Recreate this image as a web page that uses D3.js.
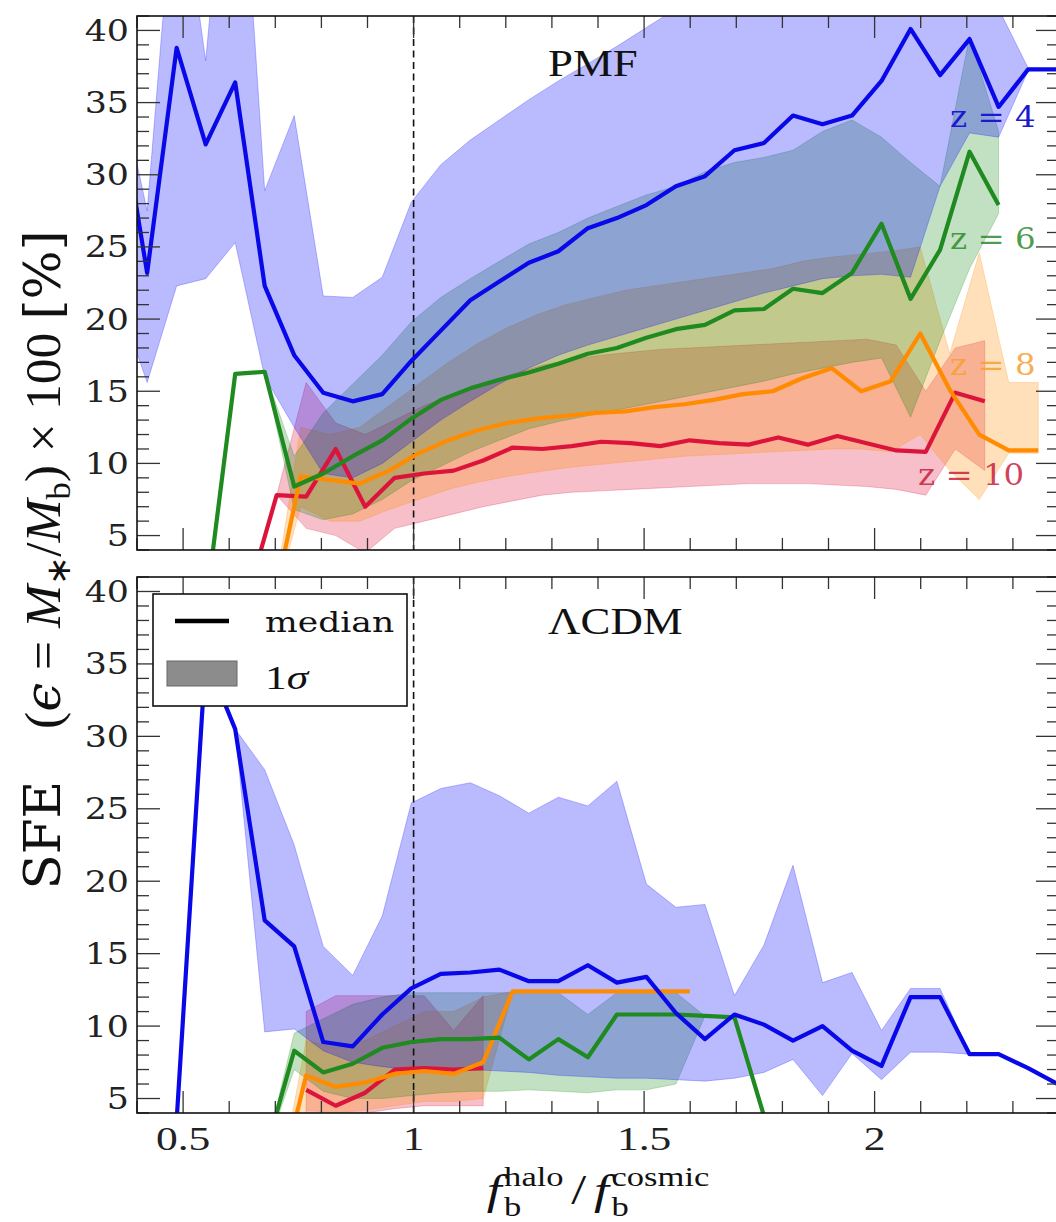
<!DOCTYPE html>
<html><head><meta charset="utf-8">
<script src="https://cdn.jsdelivr.net/npm/d3@7"></script>
<style>body{margin:0;background:#fff}svg{display:block}</style>
</head><body>
<svg id="c" width="1056" height="1222"></svg>
<script>
// ---------------- DATA ----------------
const xTickMajor = [0.5, 1, 1.5, 2];
const xTickLabels = ["0.5", "1", "1.5", "2"];
const yTickMajor = [5, 10, 15, 20, 25, 30, 35, 40];
const yTickLabels = ["5", "10", "15", "20", "25", "30", "35", "40"];

// bin centres (z=4 and z=6 share them)
const xsBG = [0.358, 0.422, 0.486, 0.549, 0.613, 0.677, 0.741, 0.804, 0.868, 0.932, 0.995, 1.059, 1.123, 1.186, 1.250, 1.314, 1.378, 1.441, 1.505, 1.569, 1.632, 1.696, 1.760, 1.823, 1.887, 1.951, 2.015, 2.078, 2.142, 2.206, 2.269, 2.333, 2.397];
const xsOr = [0.691, 0.755, 0.819, 0.883, 0.947, 1.011, 1.075, 1.139, 1.203, 1.267, 1.331, 1.395, 1.459, 1.523, 1.587, 1.651, 1.715, 1.779, 1.843, 1.907, 1.971, 2.035, 2.099, 2.163, 2.227, 2.291, 2.355];
const xsRd = [0.639, 0.703, 0.767, 0.831, 0.895, 0.959, 1.023, 1.087, 1.151, 1.215, 1.279, 1.343, 1.407, 1.471, 1.535, 1.599, 1.663, 1.727, 1.791, 1.855, 1.919, 1.983, 2.047, 2.111, 2.175, 2.239];

// ---- PMF panel ----
const pmfZ4Med = [35.7, 23.2, 38.8, 32.1, 36.4, 22.3, 17.5, 14.9, 14.3, 14.8, 17.1, 19.2, 21.3, 22.6, 23.9, 24.7, 26.3, 27.0, 27.9, 29.2, 29.9, 31.7, 32.2, 34.1, 33.5, 34.1, 36.5, 40.1, 36.9, 39.4, 34.7, 37.3, 37.3];
const pmfZ4Hi  = [37.0, 27.5, 52.5, 37.9, 60.0, 28.9, 34.1, 21.6, 21.5, 22.9, 28.1, 30.7, 32.4, 33.8, 35.2, 36.5, 37.7, 38.9, 40.2, 41.5, 42.5, 43.5, 44.0, 44.5, 45.0, 45.0, 45.0, 45.0, 45.0, 44.0, 41.5, 37.4, 37.3];
const pmfZ4Lo  = [21.5, 15.6, 22.3, 22.8, 25.3, 16.0, 12.5, 9.3, 9.0, 10.0, 11.5, 13.0, 14.3, 15.5, 16.6, 17.5, 18.2, 18.8, 19.4, 20.0, 20.6, 21.2, 21.8, 22.3, 22.8, 23.0, 23.1, 22.9, 29.2, 32.9, 32.6, 37.2, 37.3];

const pmfZ6Med = [null, null, null, 0.0, 16.2, 16.35, 8.4, 9.3, 10.5, 11.6, 13.1, 14.4, 15.2, 15.8, 16.3, 16.9, 17.6, 18.0, 18.7, 19.3, 19.6, 20.6, 20.7, 22.1, 21.8, 23.2, 26.6, 21.4, 24.8, 31.6, 27.9, null, null];
const pmfZ6Hi  = [null, null, null, 0.0, 16.2, 16.35, 10.5, 13.5, 15.5, 17.5, 19.8, 21.5, 22.8, 24.0, 25.2, 26.0, 27.0, 27.8, 28.6, 29.2, 30.2, 30.85, 31.2, 31.7, 33.0, 33.8, 32.6, 30.85, 29.2, 39.6, 33.0, null, null];
const pmfZ6Lo  = [null, null, null, 0.0, 16.2, 16.35, 6.8, 6.1, 6.5, 7.5, 8.8, 9.8, 10.8, 11.6, 12.4, 12.9, 13.3, 13.7, 14.1, 14.5, 14.9, 15.3, 15.7, 16.2, 16.6, 17.0, 17.3, 13.2, 18.5, 23.5, 27.3, null, null];

const pmfZ8Med = [-0.5, 9.1, 8.85, 8.6, 9.5, 10.7, 11.6, 12.3, 12.8, 13.1, 13.3, 13.5, 13.6, 13.9, 14.1, 14.4, 14.8, 15.0, 15.9, 16.6, 15.0, 15.7, 19.0, 15.1, 12.0, 10.9, 10.9];
const pmfZ8Hi  = [-0.5, 12.5, 12.0, 12.5, 14.0, 15.5, 17.0, 18.3, 19.4, 20.3, 21.0, 21.5, 22.0, 22.3, 22.6, 22.9, 23.2, 23.5, 24.0, 24.3, 24.5, 24.7, 25.0, 17.6, 24.6, 15.6, 15.6];
const pmfZ8Lo  = [-0.5, 7.0, 6.0, 6.0, 6.8, 7.5, 8.2, 8.7, 9.1, 9.4, 9.7, 9.9, 10.1, 10.3, 10.5, 10.6, 10.7, 10.8, 10.9, 11.0, 11.0, 10.8, 12.0, 9.5, 7.5, 10.7, 10.7];

const pmfZ10Med = [0.7, 7.8, 7.7, 11.0, 7.0, 9.0, 9.3, 9.5, 10.2, 11.1, 11.0, 11.2, 11.5, 11.4, 11.2, 11.6, 11.4, 11.3, 11.8, 11.3, 11.9, 11.4, 10.9, 10.8, 14.9, 14.3];
const pmfZ10Hi  = [0.7, 7.8, 15.6, 12.8, 12.0, 13.0, 14.0, 14.8, 15.5, 16.2, 16.8, 17.2, 17.5, 17.7, 17.9, 18.0, 18.1, 18.2, 18.3, 18.4, 18.5, 18.6, 18.2, 15.0, 18.0, 18.5];
const pmfZ10Lo  = [0.7, 7.8, 5.5, 5.0, 3.8, 5.5, 6.0, 6.5, 7.0, 7.4, 7.8, 8.0, 8.1, 8.2, 8.3, 8.4, 8.5, 8.6, 8.6, 8.6, 8.5, 8.4, 8.2, 7.8, 11.0, 9.5];

// ---- LCDM panel ----
const lcdmZ4Med = [null, null, 3.5, 35.5, 30.5, 17.3, 15.5, 8.9, 8.6, 10.8, 12.6, 13.6, 13.7, 13.9, 13.1, 13.1, 14.2, 13.0, 13.4, 10.9, 9.1, 10.8, 10.1, 9.0, 10.0, 8.3, 7.25, 12.0, 12.0, 8.06, 8.06, 7.1, 6.0];
const lcdmZ4Hi  = [null, null, 3.5, 35.5, 30.5, 27.7, 22.5, 15.5, 13.5, 17.6, 25.4, 26.4, 26.8, 25.9, 24.7, 25.8, 25.2, 26.9, 19.8, 18.2, 18.4, 12.1, 15.6, 21.1, 13.0, 13.7, 9.7, 12.6, 12.6, 8.06, 8.06, 7.1, 6.0];
const lcdmZ4Lo  = [null, null, 3.5, 35.5, 30.5, 9.6, 9.8, 8.3, 7.5, 7.2, 7.0, 7.0, 7.0, 6.9, 6.8, 6.6, 6.5, 6.4, 6.4, 6.3, 6.2, 6.4, 6.8, 7.7, 5.2, 8.1, 6.3, 8.2, 8.2, 8.06, 8.06, 7.1, 6.0];

const lcdmZ6Med = [null, null, null, null, null, 1.1, 8.3, 6.8, 7.4, 8.5, 8.9, 9.1, 9.1, 9.2, 7.7, 9.1, 7.85, 10.8, 10.8, 10.8, 10.7, 10.6, 3.8, null, null, null, null, null, null, null, null, null, null];
const lcdmZ6Hi  = [null, null, null, null, null, 1.1, 9.5, 10.5, 11.5, 12.0, 12.3, 12.3, 12.3, 12.3, 12.3, 12.3, 10.8, 12.3, 12.3, 12.3, 10.7, 10.6, 3.8, null, null, null, null, null, null, null, null, null, null];
const lcdmZ6Lo  = [null, null, null, null, null, 1.1, 7.0, 5.5, 5.0, 5.0, 5.2, 5.4, 5.5, 5.5, 5.6, 5.5, 5.4, 5.6, 5.6, 6.0, 10.7, 10.6, 3.8, null, null, null, null, null, null, null, null, null, null];

const lcdmZ8Med = [null, -1.7, 6.6, 5.8, 6.1, 6.7, 6.9, 6.7, 7.5, 12.4, 12.4, 12.4, 12.4, 12.4, 12.4, 12.4, null, null, null, null, null, null, null, null, null, null];
const lcdmZ8Hi  = [null, -1.7, 9.0, 8.5, 9.0, 10.0, 11.0, 11.0, 12.0, 12.4, 12.4, 12.4, 12.4, 12.4, 12.4, 12.4, null, null, null, null, null, null, null, null, null, null];
const lcdmZ8Lo  = [null, -1.7, 4.2, 4.0, 4.2, 4.5, 4.8, 4.8, 5.0, 12.4, 12.4, 12.4, 12.4, 12.4, 12.4, 12.4, null, null, null, null, null, null, null, null, null, null];

const lcdmZ10Med = [null, null, 5.6, 4.5, 5.4, 7.0, 7.1, 7.0, 7.1, null, null, null, null, null, null, null, null, null, null, null, null, null, null, null, null, null];
const lcdmZ10Hi  = [null, null, 11.0, 12.1, 12.1, 12.1, 12.1, 9.7, 12.1, null, null, null, null, null, null, null, null, null, null, null, null, null, null, null, null, null];
const lcdmZ10Lo  = [null, null, 4.0, 3.5, 4.0, 4.3, 4.5, 4.5, 4.5, null, null, null, null, null, null, null, null, null, null, null, null, null, null, null, null, null];

const zNames = ["z = 4", "z = 6", "z = 8", "z = 10"];
const panelTitles = ["PMF", "\u039BCDM"];
const legendLabels = ["median", "1\u03C3"];

// ---------------- DRAWING ----------------
const S = 1.28;  // horizontal stretch of the original figure's text
const svg = d3.select("#c");
svg.append("rect").attr("width", 1056).attr("height", 1222).attr("fill", "#fff");

const X0 = 137, X1 = 1059;
const x = d3.scaleLinear().domain([0.4, 2.4]).range([X0, X1]);
const panels = [
  {top: 16, bot: 550},
  {top: 577, bot: 1113}
];
panels.forEach(p => { p.y = d3.scaleLinear().domain([4, 41]).range([p.bot, p.top]); });

const COL = {
  z4:  {line: "#0808e8", fill: "#0000ff", fo: 0.27},
  z6:  {line: "#1f8a1f", fill: "#008000", fo: 0.24},
  z8:  {line: "#ff8c00", fill: "#ff8c00", fo: 0.27},
  z10: {line: "#dc143c", fill: "#dc143c", fo: 0.27}
};

const seriesTop = [
  {c: COL.z10, xs: xsRd, med: pmfZ10Med, hi: pmfZ10Hi, lo: pmfZ10Lo},
  {c: COL.z8,  xs: xsOr, med: pmfZ8Med,  hi: pmfZ8Hi,  lo: pmfZ8Lo},
  {c: COL.z6,  xs: xsBG, med: pmfZ6Med,  hi: pmfZ6Hi,  lo: pmfZ6Lo},
  {c: COL.z4,  xs: xsBG, med: pmfZ4Med,  hi: pmfZ4Hi,  lo: pmfZ4Lo}
];
const seriesBot = [
  {c: COL.z10, xs: xsRd, med: lcdmZ10Med, hi: lcdmZ10Hi, lo: lcdmZ10Lo},
  {c: COL.z8,  xs: xsRd, med: lcdmZ8Med,  hi: lcdmZ8Hi,  lo: lcdmZ8Lo},
  {c: COL.z6,  xs: xsBG, med: lcdmZ6Med,  hi: lcdmZ6Hi,  lo: lcdmZ6Lo},
  {c: COL.z4,  xs: xsBG, med: lcdmZ4Med,  hi: lcdmZ4Hi,  lo: lcdmZ4Lo}
];

function textAt(parent, px, py, parts, o) {
  const t = parent.append("text")
    .attr("transform", `translate(${px},${py}) scale(${o.sx || S},1)`)
    .attr("font-family", o.family || "DejaVu Serif")
    .attr("font-size", o.size)
    .attr("text-anchor", o.anchor || "start")
    .attr("fill", o.fill || "#111");
  if (o.op != null) t.attr("fill-opacity", o.op);
  if (typeof parts === "string") t.text(parts);
  else parts.forEach(p => {
    const ts = t.append("tspan").text(p.t);
    if (p.i) ts.attr("font-style", "italic");
    if (p.f) ts.attr("font-family", p.f);
    if (p.s) ts.attr("font-size", p.s);
    if (p.dy) ts.attr("dy", p.dy);
  });
  return t;
}

function drawPanel(pi, series) {
  const p = panels[pi], y = p.y;
  const id = "clip" + pi;
  svg.append("clipPath").attr("id", id).append("rect")
    .attr("x", X0).attr("y", p.top).attr("width", X1 - X0).attr("height", p.bot - p.top);
  const g = svg.append("g").attr("clip-path", `url(#${id})`);
  const idx = s => d3.range(s.xs.length);

  series.forEach(s => {
    const area = d3.area()
      .defined(i => s.hi[i] != null)
      .x(i => x(s.xs[i])).y0(i => y(s.lo[i])).y1(i => y(s.hi[i]));
    g.append("path").attr("d", area(idx(s)))
      .attr("fill", s.c.fill).attr("fill-opacity", s.c.fo)
      .attr("stroke", s.c.fill).attr("stroke-opacity", s.c.fo * 0.9).attr("stroke-width", 1);
  });
  g.append("line").attr("x1", x(1)).attr("x2", x(1)).attr("y1", p.top).attr("y2", p.bot)
    .attr("stroke", "#111").attr("stroke-width", 1.6).attr("stroke-dasharray", "7,4.5");
  series.forEach(s => {
    const line = d3.line().defined(i => s.med[i] != null)
      .x(i => x(s.xs[i])).y(i => y(s.med[i]));
    g.append("path").attr("d", line(idx(s))).attr("fill", "none")
      .attr("stroke", s.c.line).attr("stroke-width", 4.2)
      .attr("stroke-linejoin", "round").attr("stroke-linecap", "butt");
  });

  const tk = svg.append("g").attr("stroke", "#333").attr("stroke-width", 1.3);
  const xMinor = d3.range(4, 25).map(v => v / 10);
  xMinor.forEach(v => {
    const maj = xTickMajor.some(m => Math.abs(m - v) < 1e-6);
    const L = maj ? 22 : 12;
    tk.append("line").attr("x1", x(v)).attr("x2", x(v)).attr("y1", p.bot).attr("y2", p.bot - L);
    tk.append("line").attr("x1", x(v)).attr("x2", x(v)).attr("y1", p.top).attr("y2", p.top + L);
  });
  d3.range(4, 42).forEach(v => {
    const maj = yTickMajor.includes(v);
    const L = maj ? 23 : 12;
    tk.append("line").attr("x1", X0).attr("x2", X0 + L).attr("y1", y(v)).attr("y2", y(v));
    tk.append("line").attr("x1", X1).attr("x2", X1 - L).attr("y1", y(v)).attr("y2", y(v));
  });
  svg.append("rect").attr("x", X0).attr("y", p.top).attr("width", X1 - X0).attr("height", p.bot - p.top)
    .attr("fill", "none").attr("stroke", "#111").attr("stroke-width", 1.6);
  yTickMajor.forEach((v, i) => {
    textAt(svg, 129, y(v) + 10.5, yTickLabels[i], {size: 29, sx: 1.2, anchor: "end", fill: "#222"});
  });
  textAt(svg, 548, pi === 0 ? 76 : 634, panelTitles[pi], {size: 39, family: "Liberation Serif", sx: 1.15, fill: "#111"});
}

drawPanel(0, seriesTop);
drawPanel(1, seriesBot);

xTickMajor.forEach((v, i) => {
  textAt(svg, x(v), 1150, xTickLabels[i], {size: 34, family: "Liberation Serif", anchor: "middle", fill: "#222"});
});

// z labels
textAt(svg, 950, 127, zNames[0], {size: 29, fill: "#1a1ad0", sx: 1.12});
textAt(svg, 950, 249, zNames[1], {size: 29, fill: "#2e8a2e", sx: 1.12, op: 0.85});
textAt(svg, 950, 375, zNames[2], {size: 29, fill: "#f5a030", sx: 1.12, op: 0.85});
textAt(svg, 918, 485, zNames[3], {size: 29, fill: "#c8203c", sx: 1.12, op: 0.85});

// legend
const lg = svg.append("g");
lg.append("rect").attr("x", 153).attr("y", 594).attr("width", 254).attr("height", 112)
  .attr("fill", "#fff").attr("stroke", "#111").attr("stroke-width", 1.6);
lg.append("line").attr("x1", 175).attr("x2", 229).attr("y1", 621).attr("y2", 621)
  .attr("stroke", "#000").attr("stroke-width", 4.5);
lg.append("rect").attr("x", 167).attr("y", 661).attr("width", 70).attr("height", 25)
  .attr("fill", "#808080").attr("fill-opacity", 0.9).attr("stroke", "#666").attr("stroke-width", 1);
textAt(lg, 265, 632, legendLabels[0], {size: 27, fill: "#111"});
textAt(lg, 265, 689, [{t: "1", f: "Liberation Serif"}, {t: "\u03C3", i: true, f: "Liberation Serif"}], {size: 34, family: "Liberation Serif", fill: "#111"});

// y label (rotated), fitted to the reference length
(function () {
  const t = svg.append("text")
    .attr("font-family", "Liberation Serif").attr("font-size", 36)
    .attr("text-anchor", "middle").attr("fill", "#111");
  const parts = [
    {t: "SFE", f: "DejaVu Serif"},
    {t: "\u2003(", f: "Liberation Serif"},
    {t: "\u03F5", i: true, f: "DejaVu Serif"},
    {t: " = "},
    {t: "M", i: true},
    {t: "\u2217", s: 24, dy: 7},
    {t: "/", dy: -7},
    {t: "M", i: true},
    {t: "b", s: 24, dy: 7},
    {t: ")", dy: -7},
    {t: " \u00D7 100 "},
    {t: "[%]", f: "DejaVu Serif"}
  ];
  parts.forEach(p => {
    const ts = t.append("tspan").text(p.t);
    if (p.i) ts.attr("font-style", "italic");
    if (p.f) ts.attr("font-family", p.f);
    if (p.s) ts.attr("font-size", p.s);
    if (p.dy) ts.attr("dy", p.dy);
  });
  const L = t.node().getComputedTextLength();
  t.attr("transform", `translate(60,560) rotate(-90) scale(${660 / L},1.42)`);
})();

// x label with stacked sub/superscripts
(function () {
  const g = svg.append("g");
  const inner = g.append("g");
  let cx = 0;
  const MAIN = 42, SCR = 27;
  function piece(t, size, dy, italic) {
    const e = inner.append("text").attr("x", cx).attr("y", dy).attr("font-family", "Liberation Serif")
      .attr("font-size", size).attr("fill", "#111").text(t);
    if (italic) e.attr("font-style", "italic");
    return e.node().getComputedTextLength();
  }
  cx += piece("f", MAIN, 0, true) + 2;
  let w1 = piece("b", SCR, 12, false), w2 = piece("halo", SCR, -18, false);
  cx += Math.max(w1, w2) + 6;
  cx += piece("/", MAIN, 0, false) + 6;
  cx += piece("f", MAIN, 0, true) + 2;
  w1 = piece("b", SCR, 12, false); w2 = piece("cosmic", SCR, -18, false);
  cx += Math.max(w1, w2);
  g.attr("transform", `translate(${598 - cx * S / 2},1204) scale(${S},1)`);
})();
</script>
</body></html>
